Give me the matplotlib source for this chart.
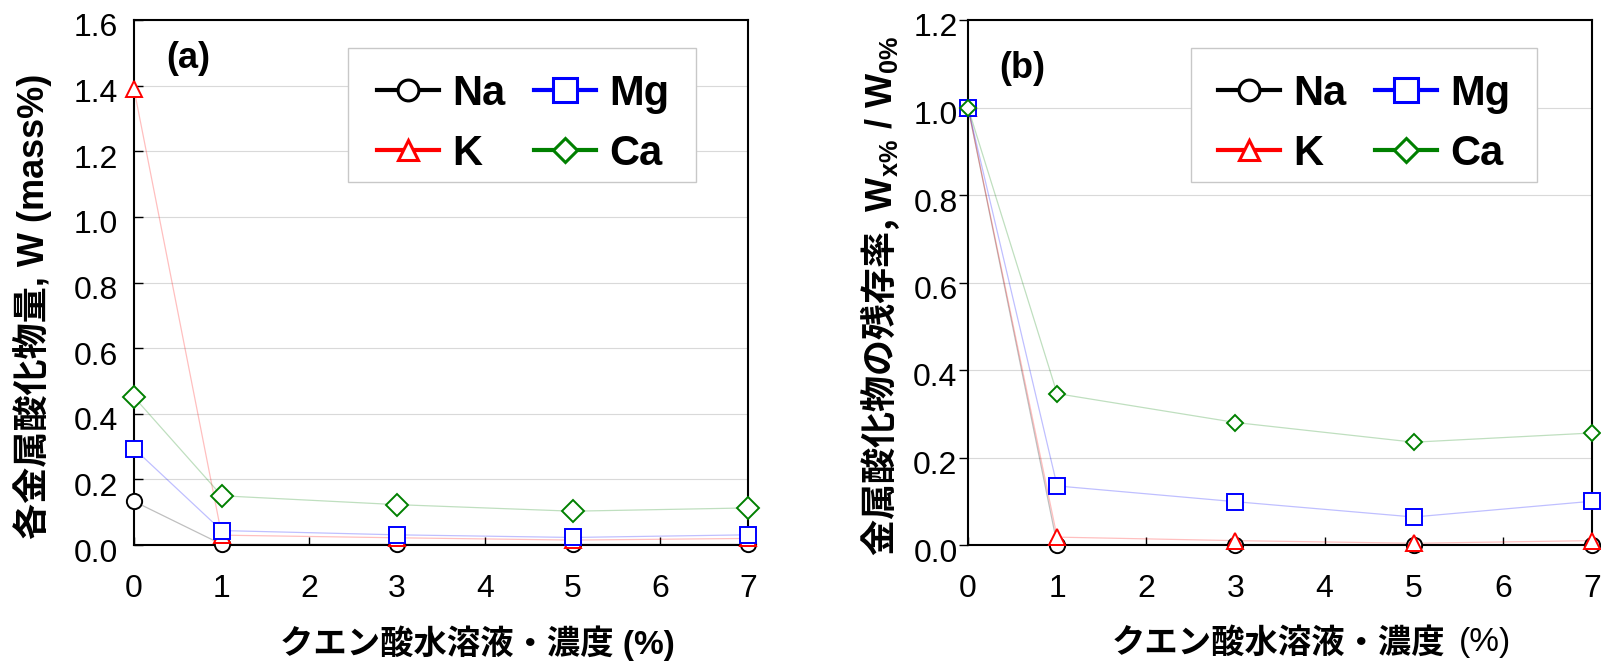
import matplotlib
matplotlib.use("Agg")
import matplotlib.pyplot as plt
import matplotlib.transforms as mtransforms
from matplotlib.lines import Line2D
from matplotlib.patches import Rectangle

plt.rcParams['font.family'] = ['Liberation Sans', 'Noto Sans CJK JP']
plt.rcParams['mathtext.fontset'] = 'custom'
plt.rcParams['mathtext.rm'] = 'Liberation Sans:bold'
plt.rcParams['mathtext.it'] = 'Liberation Sans:bold'
plt.rcParams['mathtext.bf'] = 'Liberation Sans:bold'

# クエン酸濃度 (%)
conc = [0, 1, 3, 5, 7]
xtick_vals = list(range(8))

# (a) 各金属酸化物量 W (mass%)
na_w = [0.133, 0.002, 0.002, 0.002, 0.002]
k_w = [1.39, 0.030, 0.022, 0.015, 0.020]
mg_w = [0.294, 0.044, 0.031, 0.023, 0.031]
ca_w = [0.451, 0.150, 0.123, 0.103, 0.113]

# (b) 残存率 W_x% / W_0%
na_r = [1.0, 0.001, 0.001, 0.001, 0.001]
k_r = [1.0, 0.018, 0.010, 0.004, 0.010]
mg_r = [1.0, 0.135, 0.099, 0.064, 0.100]
ca_r = [1.0, 0.346, 0.280, 0.235, 0.256]

names = ['Na', 'K', 'Mg', 'Ca']
colors = ['black', '#ff0000', '#0000ff', '#008000']
markers = ['o', '^', 's', 'D']

W, H = 1601, 661
fig = plt.figure(figsize=(W / 100, H / 100), dpi=100)


def axes_px(l, t, r, b):
    return fig.add_axes([l / W, 1 - b / H, (r - l) / W, (b - t) / H])


def draw_panel(ax, series, ymax, diamond_ms, ytick_dir, ytick_pad):
    for vals, c, m in zip(series, colors, markers):
        ms = diamond_ms if m == 'D' else 11
        ax.plot(conc, vals, color=c, lw=0.9, alpha=0.25, zorder=3, clip_on=False)
        ax.plot(conc, vals, ls='none', marker=m, ms=ms, mfc='white', mec=c,
                mew=1.4, zorder=4, clip_on=False)
    ax.set_xlim(0, 7)
    ax.set_ylim(0, ymax)
    ax.set_xticks(xtick_vals)
    ax.set_yticks([i * 0.2 for i in range(int(round(ymax / 0.2)) + 1)])
    ax.yaxis.set_major_formatter(matplotlib.ticker.FormatStrFormatter('%.1f'))
    ax.grid(axis='y', color='#d9d9d9', lw=0.8)
    ax.set_axisbelow(True)
    for s in ax.spines.values():
        s.set_linewidth(1.5)
        s.set_zorder(3.5)
    ax.tick_params(axis='x', direction='in', length=6, width=1, labelbottom=False)
    ax.tick_params(axis='y', direction=ytick_dir, length=6.5, width=1, pad=ytick_pad, labelsize=23)
    yshift = mtransforms.ScaledTranslation(0, -5 / 100, fig.dpi_scale_trans)
    for lab in ax.get_yticklabels():
        lab.set_transform(lab.get_transform() + yshift)

    # x 目盛ラベルは軸から離して配置
    xlab_trans = ax.get_xaxis_transform() + mtransforms.ScaledTranslation(
        0, -29 / 100, fig.dpi_scale_trans)
    for v in xtick_vals:
        ax.text(v, 0, str(v), transform=xlab_trans, fontsize=23,
                ha='center', va='top')

    handles = []
    for name, c, m in zip(names, colors, markers):
        lms = {'o': 15, '^': 15, 's': 17, 'D': 12}[m]
        handles.append(Line2D([], [], color=c, lw=3, marker=m, ms=lms,
                              mfc='white', mec=c, mew=2.2, label=name))
    return handles


ax_a = axes_px(134, 20, 748, 545)
ax_b = axes_px(968, 20, 1592, 545)

h = draw_panel(ax_a, [na_w, k_w, mg_w, ca_w], 1.6, 11, 'in', 11.5)
draw_panel(ax_b, [na_r, k_r, mg_r, ca_r], 1.2, 8.5, 'out', 1)

# 凡例 (枠は別に描く)
for ax, box_x, box_w, anchor in [(ax_a, 0.3485, 0.5668, (0.3958, 0.897)),
                                 (ax_b, 0.3574, 0.5545, (0.4006, 0.897))]:
    ax.add_patch(Rectangle((box_x, 0.6914), box_w, 0.2552, transform=ax.transAxes,
                           facecolor='white', edgecolor='#c8c8c8', lw=1,
                           zorder=4.8, clip_on=False))
    leg = ax.legend(handles=h, ncol=2, loc='upper left', bbox_to_anchor=anchor,
                    prop={'family': 'Liberation Sans', 'weight': 'bold', 'size': 30},
                    handlelength=1.49, handletextpad=0.32, columnspacing=0.67,
                    labelspacing=0.48, borderpad=0, borderaxespad=0, frameon=False)
    leg.set_zorder(5)

ax_a.text(0.052, 0.926, '(a)', transform=ax_a.transAxes, fontsize=26,
          fontweight='bold', va='center', ha='left')
ax_b.text(0.05, 0.907, '(b)', transform=ax_b.transAxes, fontsize=26,
          fontweight='bold', va='center', ha='left')

# 軸ラベル
fig.text(477 / W, 1 - 643 / H, 'クエン酸水溶液・濃度 (%)', fontsize=24,
         fontweight='bold', ha='center', va='center')
fig.text(1445 / W, 1 - 643 / H, 'クエン酸水溶液・濃度', fontsize=24,
         fontweight='bold', ha='right', va='center', family='Noto Sans CJK JP')
fig.text(1459 / W, 1 - 643 / H, '(%)', fontsize=24,
         ha='left', va='center', family='Liberation Sans')

fig.text(33 / W, 1 - 306 / H, '各金属酸化物量, W (mass%)', fontsize=26,
         fontweight='bold', rotation=90, ha='center', va='center')
fig.text(880 / W, 1 - 296 / H, r'金属酸化物の残存率, $\mathrm{W_{x\%}\ /\ W_{0\%}}$',
         fontsize=26, fontweight='bold', rotation=90, ha='center', va='center',
         family='Noto Sans CJK JP')

fig.savefig('out.png', dpi=100)
